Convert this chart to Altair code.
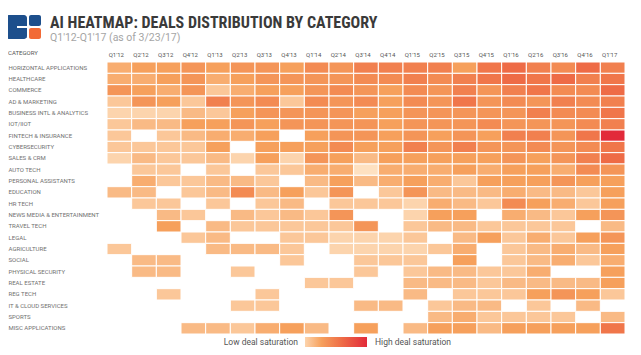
import altair as alt
import pandas as pd

quarters = ["Q1'12", "Q2'12", "Q3'12", "Q4'12", "Q1'13", "Q2'13", "Q3'13", "Q4'13",
            "Q1'14", "Q2'14", "Q3'14", "Q4'14", "Q1'15", "Q2'15", "Q3'15", "Q4'15",
            "Q1'16", "Q2'16", "Q3'16", "Q4'16", "Q1'17"]

categories = ["HORIZONTAL APPLICATIONS", "HEALTHCARE", "COMMERCE", "AD & MARKETING",
              "BUSINESS INTL & ANALYTICS", "IOT/IIOT", "FINTECH & INSURANCE", "CYBERSECURITY",
              "SALES & CRM", "AUTO TECH", "PERSONAL ASSISTANTS", "EDUCATION", "HR TECH",
              "NEWS MEDIA & ENTERTAINMENT", "TRAVEL TECH", "LEGAL", "AGRICULTURE", "SOCIAL",
              "PHYSICAL SECURITY", "REAL ESTATE", "REG TECH", "IT & CLOUD SERVICES", "SPORTS",
              "MISC APPLICATIONS"]

# deal saturation score per quarter (0 = no deals, cell left blank)
horizontal_applications = [4, 4.5, 4.5, 5, 4.5, 5, 5, 4.5, 5.5, 5, 6, 6, 6, 6, 4.5, 6.5, 7, 6, 5.5, 7, 6]
healthcare = [4, 4, 4.5, 5, 4, 4.5, 5, 5, 5, 5, 5.5, 5.5, 6, 5.5, 6, 6.5, 7, 6.5, 7, 6, 6.5]
commerce = [5, 4.5, 4, 5, 3, 4, 4.5, 4.5, 5, 5.5, 5, 4.5, 5.5, 5, 6, 5, 6, 6.5, 5.5, 5.5, 7]
ad_marketing = [3, 5, 4.5, 3, 6, 5, 5.5, 3, 5.5, 5, 5.5, 4.5, 5.5, 5, 6.5, 5, 5.5, 5, 6, 5.5, 6]
business_intl = [2.5, 2.5, 2.5, 3.5, 3, 4.5, 5, 5, 5, 5, 4.5, 4.5, 5, 5, 5, 5, 5, 6, 5.5, 5.5, 6.5]
iot_iiot = [3, 3.5, 3.5, 4.5, 4.5, 5, 4.5, 5, 5, 5, 5, 4.5, 5, 5, 5, 5.5, 5, 5, 5, 5.5, 6]
fintech = [3, 0, 3, 3.5, 4, 4, 4.5, 0, 4.5, 5, 5, 4.5, 5, 4.5, 5, 4.5, 6, 6, 5, 6.5, 10]
cybersecurity = [3, 3, 3, 3, 4.5, 0, 4.5, 4.5, 4.5, 5.5, 4.5, 4.5, 6, 5, 6, 5, 5, 5.5, 5, 5.5, 6.5]
sales_crm = [2.5, 3.5, 3, 3, 3.5, 2.5, 4.5, 2.5, 5, 4.5, 3.5, 4.5, 4.5, 4.5, 4.5, 4.5, 5, 4.5, 5, 6, 7]
auto_tech = [0, 3, 3, 0, 3, 0, 3, 3, 4, 4, 2, 4, 4, 4, 4.5, 4, 4.5, 4.5, 4, 5.5, 5]
personal_assistants = [0, 4, 3, 3, 3.5, 3.5, 3, 0, 3.5, 4.5, 3.5, 4, 4.5, 4, 3, 4.5, 4.5, 4.5, 5, 4.5, 4.5]
education = [3.5, 3.5, 0, 3, 3.5, 5.5, 3.5, 4.5, 3, 5, 0, 3, 5, 3.5, 3.5, 3.5, 4, 3.5, 3.5, 3, 4.5]
hr_tech = [0, 3, 3, 0, 3, 0, 3, 3.5, 0, 3, 3, 3, 2.5, 4, 3.5, 3, 5.5, 4.5, 4, 3, 4.5]
news_media = [0, 0, 3.5, 3, 0, 3.5, 3, 3.5, 3, 5, 0, 0, 2.5, 4.5, 4.5, 0, 4, 3.5, 3, 4.5, 5]
travel_tech = [0, 0, 4.5, 0, 3.5, 3, 3, 3, 3, 3, 5, 0, 3, 3.5, 3.5, 3, 3, 3, 3, 0, 3.5]
legal = [0, 0, 0, 3, 3.5, 0, 0, 3, 3, 2.5, 2.5, 2.5, 3, 0, 3.5, 4.5, 3, 4, 3, 4.5, 5]
agriculture = [3, 0, 0, 0, 3.5, 3.5, 3.5, 3, 0, 2.5, 2.5, 2.5, 2.5, 3, 4, 0, 3, 3.5, 4, 3.5, 4.5]
social = [0, 3.5, 3.5, 0, 0, 0, 0, 3, 0, 0, 3, 3, 3, 0, 4.5, 0, 3, 3.5, 4, 3, 4]
physical_security = [0, 3.5, 3.5, 0, 0, 3, 0, 0, 0, 0, 3, 0, 3, 3.5, 3.5, 3, 3, 4, 0, 0, 4.5]
real_estate = [0, 0, 0, 0, 0, 0, 0, 0, 3, 3, 0, 0, 3.5, 3.5, 3.5, 3, 3.5, 3.5, 3.5, 3.5, 4.5]
reg_tech = [0, 0, 3, 0, 0, 0, 3, 0, 0, 0, 0, 0, 3.5, 0, 3, 3, 3, 4.5, 5, 4.5, 3]
it_cloud = [0, 0, 0, 0, 0, 3, 3, 0, 0, 0, 3.5, 3.5, 0, 3, 3.5, 3.5, 0, 3, 0, 3.5, 0]
sports = [0, 0, 0, 0, 0, 0, 0, 0, 0, 0, 0, 0, 0, 3.5, 4, 3, 3, 3, 3, 0, 3.5]
misc_applications = [0, 0, 0, 3.5, 3.5, 3, 4, 4.5, 3.5, 0, 4.5, 0, 3.5, 4.5, 4.5, 3.5, 4.5, 4.5, 4.5, 4.5, 6.5]

rows = [horizontal_applications, healthcare, commerce, ad_marketing, business_intl, iot_iiot,
        fintech, cybersecurity, sales_crm, auto_tech, personal_assistants, education, hr_tech,
        news_media, travel_tech, legal, agriculture, social, physical_security, real_estate,
        reg_tech, it_cloud, sports, misc_applications]

records = []
for cat, vals in zip(categories, rows):
    for q, v in zip(quarters, vals):
        if v:
            records.append({"category": cat, "quarter": q, "value": v})
df = pd.DataFrame(records)

LABEL_FONT = "Roboto"
TITLE_FONT = "Liberation Sans Narrow, Roboto Condensed, DejaVu Sans Condensed, sans-serif"

heat = alt.Chart(df).mark_rect(stroke="white", strokeWidth=1).encode(
    x=alt.X("quarter:N", sort=quarters,
            scale=alt.Scale(domain=quarters, paddingInner=0, paddingOuter=0),
            axis=alt.Axis(orient="top", title=None, domain=False, ticks=False, labelAngle=0,
                          labelPadding=5, labelFontSize=6, labelColor="#555555",
                          labelFont=LABEL_FONT, labelOffset=-3)),
    y=alt.Y("category:N", sort=categories,
            scale=alt.Scale(domain=categories, paddingInner=0, paddingOuter=0),
            axis=alt.Axis(title=None, domain=False, ticks=False, labelAlign="left",
                          labelPadding=99, labelFontSize=6, labelColor="#707070",
                          labelFont=LABEL_FONT, labelLimit=200)),
    color=alt.Color("value:Q",
                    scale=alt.Scale(domain=[2.5, 4.5, 7, 10],
                                    range=["#fcd4ad", "#f6a05c", "#ee6b46", "#e22a3a"],
                                    interpolate="rgb"),
                    legend=alt.Legend(orient="none", legendX=198, legendY=275,
                                      direction="horizontal", gradientLength=62,
                                      gradientThickness=10, labelOpacity=0, labelFontSize=1,
                                      title=None, gradientStrokeWidth=0)),
)


def text_layer(txt, x, y, size, color, weight="normal", align="left", font=LABEL_FONT,
               baseline="alphabetic"):
    return alt.Chart(pd.DataFrame({"t": [txt]})).mark_text(
        align=align, baseline=baseline, fontSize=size, color=color, fontWeight=weight,
        font=font).encode(text="t:N", x=alt.value(x), y=alt.value(y))


def box(x1, x2, y1, y2, color, radius=0):
    return alt.Chart(pd.DataFrame({"a": [0]})).mark_rect(color=color, cornerRadius=radius).encode(
        x=alt.value(x1), x2=alt.value(x2), y=alt.value(y1), y2=alt.value(y2))


title = text_layer("AI HEATMAP: DEALS DISTRIBUTION BY CATEGORY", -57, -34, 16, "#3a3a3a",
                   weight="bold", font=TITLE_FONT)
subtitle = text_layer("Q1'12-Q1'17 (as of 3/23/17)", -57, -21, 10.5, "#a5a5a5")
cat_head = text_layer("CATEGORY", -99, -9, 6, "#555555", baseline="middle")
low = text_layer("Low deal saturation", 191, 280, 8.5, "#555555", align="right", baseline="middle")
high = text_layer("High deal saturation", 268, 280, 8.5, "#555555", baseline="middle")

logo = [
    box(-101, -80, -47, -23, "#1d4f8c", 3),
    box(-78, -66, -47, -36, "#1d4f8c", 2),
    box(-78, -66, -34, -23, "#f26a36", 2),
    box(-90, -78, -36, -34, "white"),
]

chart = alt.layer(heat, title, subtitle, cat_head, low, high, *logo).properties(
    width=518, height=272,
    autosize=alt.AutoSizeParams(type="none"),
    padding={"left": 99, "top": 54, "right": 8, "bottom": 16},
).configure_view(stroke=None)

chart.save("out.html", embed_options={"renderer": "svg", "actions": False})
